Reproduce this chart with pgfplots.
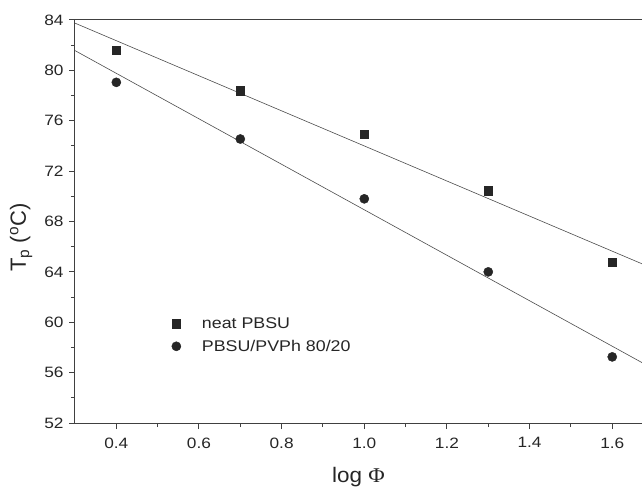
\documentclass[border=0pt]{standalone}
\usepackage{fontspec}
\setmainfont{Liberation Sans}
\newfontfamily\seriffont{Liberation Serif}
\usepackage{pgfplots}
\pgfplotsset{compat=1.18}
\begin{document}
\begin{tikzpicture}
\begin{axis}[
  at={(0pt,0pt)}, anchor=south west,
  scale only axis, width=567pt, height=403pt,
  xmin=0.3, xmax=1.672, ymin=52, ymax=84,
  axis x line*=box, axis y line*=left,
  axis line style={-, line width=1pt, black!75},
  xtick={0.4,0.6,0.8,1.0,1.2,1.4,1.6},
  ytick={52,56,60,64,68,72,76,80,84},
  minor x tick num=1, minor y tick num=1,
  xtick pos=left, ytick pos=left,
  tick align=outside, major tick length=6pt, minor tick length=4pt,
  every tick/.style={line width=1pt, black!75},
  /pgf/number format/assume math mode=true,
  xticklabel={\scalebox{1.15}[1]{\pgfmathprintnumber[fixed, fixed zerofill, precision=1]{\tick}}},
  yticklabel={\scalebox{1.15}[1]{\pgfmathprintnumber{\tick}}},
  tick label style={font=\fontsize{15}{17}\selectfont, black!85},
  xticklabel style={yshift=-5pt},
  yticklabel style={xshift=-2pt},
  xlabel={\scalebox{1.07}[1]{log {\seriffont Φ}}},
  ylabel={T\textsubscript{p} (\textsuperscript{o}C)},
  xlabel style={font=\fontsize{21}{23}\selectfont, black!85,
    at={(axis description cs:0.5,-0.134)}, anchor=center},
  ylabel style={font=\fontsize{22}{24}\selectfont, black!85,
    at={(axis description cs:-0.095,0.46)}, anchor=center},
  legend style={draw=none, fill=none, at={(0.165,0.218)}, anchor=west,
    font=\fontsize{15.5}{17}\selectfont, row sep=6pt, column sep=19pt, text=black!85},
  legend cell align=left,
  legend image code/.code={\draw[#1] plot coordinates {(0pt,0pt)};},
]
\addplot[only marks, mark=square*, mark size=4.2pt, black!85, mark options={fill=black!85}]
  coordinates {(0.4,81.6) (0.7,78.4) (1.0,74.95) (1.3,70.45) (1.6,64.75)};
\addlegendentry{\scalebox{1.15}[1]{neat PBSU}}
\addplot[only marks, mark=*, mark size=4.6pt, black!85, mark options={fill=black!85}]
  coordinates {(0.4,79.05) (0.7,74.55) (1.0,69.8) (1.3,64.0) (1.6,57.25)};
\addlegendentry{\scalebox{1.15}[1]{PBSU/PVPh 80/20}}
\addplot[forget plot, line width=0.6pt, black!70] coordinates {(0.3,83.75) (1.7,64.25)};
\addplot[forget plot, line width=0.6pt, black!70] coordinates {(0.3,81.57) (1.7,56.29)};
\end{axis}
\pgfresetboundingbox
\path[use as bounding box] (-75pt,-64pt) rectangle (567pt,423pt);
\end{tikzpicture}
\end{document}
